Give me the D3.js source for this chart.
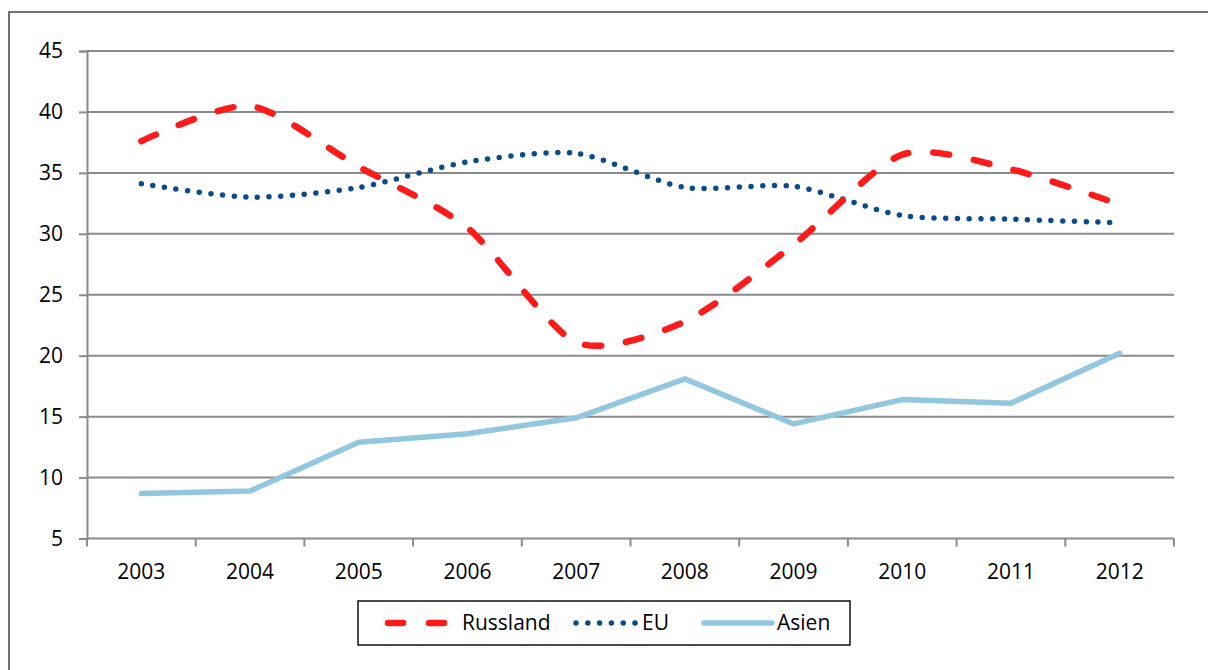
<!DOCTYPE html>
<html>
<head>
<meta charset="utf-8">
<script src="https://cdn.jsdelivr.net/npm/d3@7"></script>
<style>
  html, body { margin: 0; padding: 0; background: #fff; }
  svg { display: block; }
  text { font-family: "Open Sans", "DejaVu Sans", sans-serif; fill: #000; }
</style>
</head>
<body>
<svg id="chart" width="1208" height="670"></svg>
<script>
const years = ["2003","2004","2005","2006","2007","2008","2009","2010","2011","2012"];
const russland = [37.6, 40.5, 35.5, 30.5, 21.1, 22.8, 29.1, 36.5, 35.3, 32.4];
const eu       = [34.1, 33.0, 33.8, 35.9, 36.6, 33.8, 33.9, 31.5, 31.2, 30.9];
const asien    = [8.7, 8.9, 12.9, 13.6, 14.9, 18.1, 14.4, 16.4, 16.1, 20.2];
const yTicks   = [5, 10, 15, 20, 25, 30, 35, 40, 45];
const seriesNames = ["Russland", "EU", "Asien"];

const svg = d3.select("#chart");
const gray = "#8a8a8a";
const fs = 21;

// outer frame (extends past right/bottom edges)
svg.append("rect").attr("x", 9).attr("y", 12).attr("width", 1230).attr("height", 700)
  .attr("fill", "none").attr("stroke", "#444").attr("stroke-width", 1.5);

const x = d3.scaleBand().domain(years).range([87, 1174]);
const y = d3.scaleLinear().domain([5, 45]).range([538.5, 51]);
const cx = d => x(d) + x.bandwidth() / 2;

// gridlines
svg.append("g").selectAll("line").data(yTicks.slice(1)).join("line")
  .attr("x1", 87).attr("x2", 1174)
  .attr("y1", d => y(d)).attr("y2", d => y(d))
  .attr("stroke", gray).attr("stroke-width", 2);

// y axis
const yAxis = svg.append("g").attr("transform", "translate(87,0)")
  .call(d3.axisLeft(y).tickValues(yTicks).tickSize(8).tickPadding(16));
yAxis.select(".domain").attr("stroke", gray).attr("stroke-width", 2);
yAxis.selectAll(".tick line").attr("stroke", gray).attr("stroke-width", 2);
yAxis.selectAll(".tick text").attr("font-size", fs).attr("font-family", "Open Sans").attr("fill", "#000");

// x axis
const xAxisLine = svg.append("g");
xAxisLine.append("line").attr("x1", 87).attr("x2", 1174)
  .attr("y1", y(5)).attr("y2", y(5)).attr("stroke", gray).attr("stroke-width", 2);
const edges = years.map(d => x(d)).concat([x(years[years.length - 1]) + x.bandwidth()]);
xAxisLine.selectAll("line.tk").data(edges).join("line").attr("class", "tk")
  .attr("x1", d => d).attr("x2", d => d)
  .attr("y1", y(5)).attr("y2", y(5) + 8)
  .attr("stroke", gray).attr("stroke-width", 2);
svg.append("g").selectAll("text").data(years).join("text")
  .attr("x", d => cx(d)).attr("y", 579)
  .attr("text-anchor", "middle").attr("font-size", fs).text(d => d);

// lines
const smooth = d3.line().x((d, i) => cx(years[i])).y(d => y(d)).curve(d3.curveCardinal.tension(0.25));
const straight = d3.line().x((d, i) => cx(years[i])).y(d => y(d));

svg.append("path").datum(asien).attr("d", straight)
  .attr("fill", "none").attr("stroke", "#93c6df").attr("stroke-width", 5.5)
  .attr("stroke-linecap", "round").attr("stroke-linejoin", "round");

svg.append("path").datum(eu).attr("d", smooth)
  .attr("fill", "none").attr("stroke", "#0b4a8c").attr("stroke-width", 5.5)
  .attr("stroke-linecap", "round").attr("stroke-dasharray", "0 11.7");

svg.append("path").datum(russland).attr("d", smooth)
  .attr("fill", "none").attr("stroke", "#ff1a1a").attr("stroke-width", 6.5)
  .attr("stroke-linecap", "round").attr("stroke-dasharray", "16 25");

// legend
const lg = svg.append("g");
lg.append("rect").attr("x", 358).attr("y", 601).attr("width", 492).attr("height", 44)
  .attr("fill", "#fff").attr("stroke", "#111").attr("stroke-width", 1.5);
const ly = 623;
const items = [
  { name: seriesNames[0], x1: 388, x2: 447, color: "#ff1a1a", w: 6.5, dash: "15 26", tx: 462 },
  { name: seriesNames[1], x1: 576, x2: 636, color: "#0b4a8c", w: 5.5, dash: "0 11.8", tx: 642 },
  { name: seriesNames[2], x1: 704, x2: 772, color: "#93c6df", w: 5.5, dash: null, tx: 777 }
];
items.forEach(it => {
  const l = lg.append("line").attr("x1", it.x1).attr("x2", it.x2).attr("y1", ly).attr("y2", ly)
    .attr("stroke", it.color).attr("stroke-width", it.w).attr("stroke-linecap", "round");
  if (it.dash) l.attr("stroke-dasharray", it.dash);
  lg.append("text").attr("x", it.tx).attr("y", ly + 7).attr("font-size", fs).text(it.name);
});
</script>
</body>
</html>
